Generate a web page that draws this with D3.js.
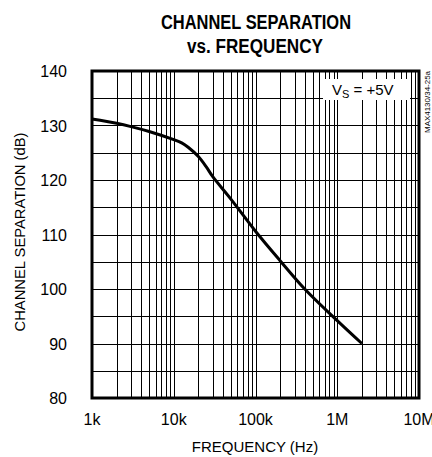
<!DOCTYPE html>
<meta charset="utf-8">
<script src="https://d3js.org/d3.v7.min.js"></script>
<style>
    body { margin: 0; background: #fff; }
    text { font-family: 'Liberation Sans', Arial, sans-serif; fill: #000; }
    .title { font-weight: bold; font-size: 20px; }
    .tick-label { font-size: 16px; }
    .axis-label { font-size: 15px; }
    .grid line { stroke: #000; stroke-width: 1px; }
    .frame { fill: none; stroke: #000; stroke-width: 3px; }
    .curve { fill: none; stroke: #000; stroke-width: 3px; }
</style>
<div id="chart"></div>
<script>
    // curve (Hz, dB)
    let freq = [1e3, 2e3, 3e3, 5e3, 1e4, 1.25e4, 1.5e4, 2e4, 2.5e4, 3e4, 5e4, 1e5, 2e5, 4e5, 1e6, 2e6];
    let sep = [131.2, 130.4, 129.8, 128.9, 127.4, 126.8, 126, 124.3, 122.4, 120.6, 116.5, 110.6, 105.2, 100, 94.2, 90];

    let xTicks = [1e3, 1e4, 1e5, 1e6, 1e7];
    let xTickLabels = ["1k", "10k", "100k", "1M", "10M"];
    let yTicks = [80, 90, 100, 110, 120, 130, 140];

    let margin = {top: 71, right: 13, bottom: 59, left: 92},
        width = 432 - margin.left - margin.right,
        height = 457 - margin.top - margin.bottom;

    let svg = d3.select("#chart")
        .append("svg")
        .attr("width", 432)
        .attr("height", 457);

    let g = svg.append("g")
        .attr("transform", "translate(" + margin.left + "," + margin.top + ")");

    let x = d3.scaleLog().domain([1e3, 1e7]).range([0, width]);
    let y = d3.scaleLinear().domain([80, 140]).range([height, 0]);

    // vertical grid: 1..9 in each decade
    let xGrid = [];
    for (let d = 1e3; d < 1e7; d *= 10) {
        for (let k = 2; k <= 9; k++) xGrid.push(d * k);
        if (d > 1e3) xGrid.push(d);
    }
    let grid = g.append("g").attr("class", "grid");
    grid.selectAll("vline")
        .data(xGrid)
        .enter()
        .append("line")
        .attr("x1", d => Math.round(x(d)) + 0.5).attr("x2", d => Math.round(x(d)) + 0.5)
        .attr("y1", 0).attr("y2", height);

    grid.selectAll("hline")
        .data(d3.range(85, 140, 5))
        .enter()
        .append("line")
        .attr("x1", 0).attr("x2", width)
        .attr("y1", d => Math.round(y(d)) + 0.5).attr("y2", d => Math.round(y(d)) + 0.5);

    // annotation box
    g.append("rect")
        .attr("x", 231).attr("y", 8)
        .attr("width", 87).attr("height", 21)
        .attr("fill", "#fff");
    let ann = g.append("text")
        .attr("font-size", "15px")
        .attr("x", 240).attr("y", 24);
    ann.append("tspan").text("V");
    ann.append("tspan").attr("font-size", "11px").attr("dy", 3).text("S");
    ann.append("tspan").attr("dy", -3).text(" = +5V");

    let line = d3.line()
        .x((d, i) => x(freq[i]))
        .y(d => y(d))
        .curve(d3.curveCatmullRom.alpha(0.5));

    g.append("path")
        .datum(sep)
        .attr("class", "curve")
        .attr("d", line);

    g.append("rect")
        .attr("class", "frame")
        .attr("width", width)
        .attr("height", height);

    // tick labels
    g.selectAll("xlab")
        .data(xTicks)
        .enter()
        .append("text")
        .attr("class", "tick-label")
        .attr("x", d => x(d))
        .attr("y", height + 27)
        .attr("text-anchor", "middle")
        .text((d, i) => xTickLabels[i]);

    g.selectAll("ylab")
        .data(yTicks)
        .enter()
        .append("text")
        .attr("class", "tick-label")
        .attr("x", -25)
        .attr("y", d => y(d) + 6)
        .attr("text-anchor", "end")
        .text(d => d);

    svg.append("text")
        .attr("class", "axis-label")
        .attr("x", 255).attr("y", 452)
        .attr("text-anchor", "middle")
        .text("FREQUENCY (Hz)");

    svg.append("text")
        .attr("class", "axis-label")
        .attr("font-size", "16px")
        .attr("transform", "translate(25,232) rotate(-90)")
        .attr("text-anchor", "middle")
        .attr("textLength", 199)
        .attr("lengthAdjust", "spacingAndGlyphs")
        .text("CHANNEL SEPARATION (dB)");

    svg.append("text")
        .attr("class", "title")
        .attr("x", 256).attr("y", 29)
        .attr("text-anchor", "middle")
        .attr("textLength", 190)
        .attr("lengthAdjust", "spacingAndGlyphs")
        .text("CHANNEL SEPARATION");
    svg.append("text")
        .attr("class", "title")
        .attr("x", 255).attr("y", 53)
        .attr("text-anchor", "middle")
        .attr("textLength", 136)
        .attr("lengthAdjust", "spacingAndGlyphs")
        .text("vs. FREQUENCY");

    svg.append("text")
        .attr("transform", "translate(430,133) rotate(-90)")
        .attr("font-size", "8px")
        .attr("fill", "#333")
        .attr("textLength", 62)
        .attr("lengthAdjust", "spacingAndGlyphs")
        .text("MAX4130/34-25a");
</script>
